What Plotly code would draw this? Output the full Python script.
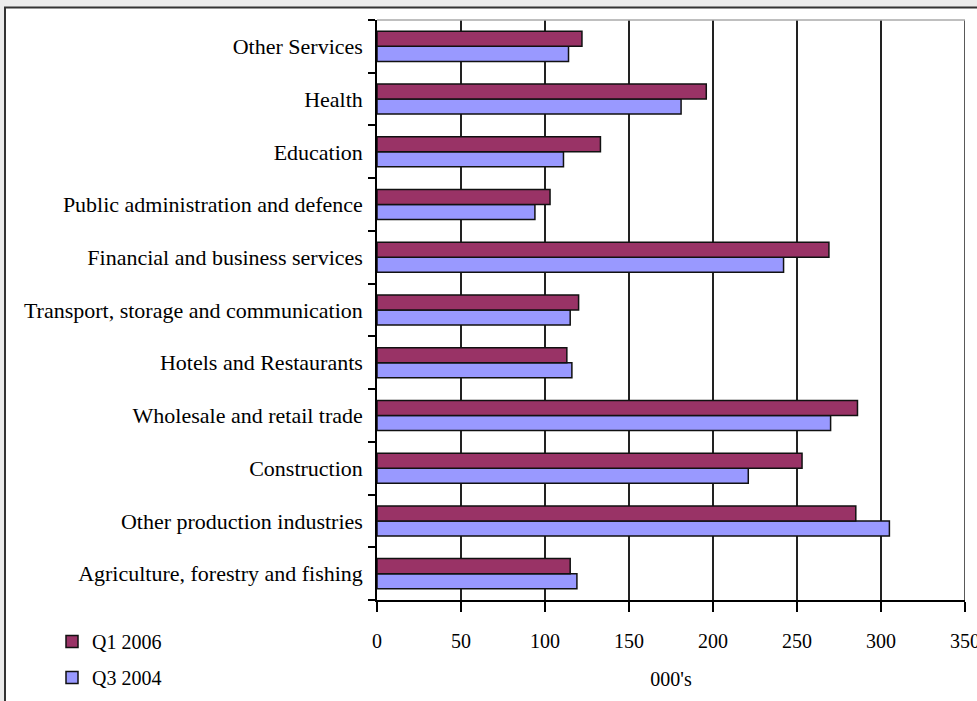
import plotly.graph_objects as go

categories = [
    "Agriculture, forestry and fishing",
    "Other production industries",
    "Construction",
    "Wholesale and retail trade",
    "Hotels and Restaurants",
    "Transport, storage and communication",
    "Financial and business services",
    "Public administration and defence",
    "Education",
    "Health",
    "Other Services",
]
q1_2006 = [115, 285, 253, 286, 113, 120, 269, 103, 133, 196, 122]
q3_2004 = [119, 305, 221, 270, 116, 115, 242, 94, 111, 181, 114]

x_ticks = [0, 50, 100, 150, 200, 250, 300, 350]

W, H = 977, 701
ML, MR, MT, MB = 377, 12, 20, 101
PW = W - ML - MR
PH = H - MT - MB

FONT = "Liberation Serif"

fig = go.Figure()
fig.add_trace(go.Bar(
    y=categories, x=q3_2004, orientation="h", name="Q3 2004",
    marker=dict(color="#9999FF", line=dict(color="#111111", width=1.5)),
    legendgroup="b", legendrank=2,
))
fig.add_trace(go.Bar(
    y=categories, x=q1_2006, orientation="h", name="Q1 2006",
    marker=dict(color="#993366", line=dict(color="#111111", width=1.5)),
    legendgroup="a", legendrank=1,
))

def px_x(px):
    return (px - ML) / PW

def px_y(py):
    return (H - MB - py) / PH

shapes = [
    # outer chart frame
    dict(type="rect", xref="paper", yref="paper",
         x0=px_x(5), x1=px_x(W + 20), y0=px_y(H + 20), y1=px_y(7.5),
         fillcolor="white", line=dict(color="#333333", width=2), layer="below"),
    # top border of plot area
    dict(type="line", xref="paper", yref="paper",
         x0=0, x1=1, y0=1, y1=1, line=dict(color="#aaaaaa", width=1.5)),
    # gridline at the right end of the axis range
    dict(type="line", xref="x", yref="paper",
         x0=x_ticks[-1], x1=x_ticks[-1], y0=0, y1=1,
         line=dict(color="#222222", width=1.5), layer="below"),
]

fig.update_layout(
    width=W, height=H,
    margin=dict(l=ML, r=MR, t=MT, b=MB, autoexpand=False),
    paper_bgcolor="#ebebeb",
    plot_bgcolor="white",
    barmode="group",
    bargap=0.43,
    bargroupgap=0,
    font=dict(family=FONT, size=22, color="black"),
    showlegend=True,
    legend=dict(
        x=px_x(52), y=px_y(622), xanchor="left", yanchor="top",
        traceorder="grouped", tracegroupgap=7,
        bgcolor="rgba(0,0,0,0)",
        font=dict(family=FONT, size=20, color="black"),
        itemwidth=30,
    ),
    shapes=shapes,
    xaxis=dict(
        range=[0, 350], tickvals=x_ticks, ticktext=[str(v) for v in x_ticks],
        automargin=False,
        showgrid=True, gridcolor="#222222", gridwidth=1.5,
        showline=True, linecolor="black", linewidth=1.5,
        ticks="outside", ticklen=10, tickwidth=1.5, tickcolor="black",
        ticklabelstandoff=12, ticklabeloverflow="allow",
        zeroline=False,
        title=dict(text="000's", standoff=21, font=dict(family=FONT, size=20)),
        tickfont=dict(family=FONT, size=20),
    ),
    yaxis=dict(
        type="category",
        automargin=False,
        showgrid=False,
        showline=True, linecolor="black", linewidth=1.5,
        ticks="outside", tickson="boundaries", ticklen=7, tickwidth=1.5, tickcolor="black",
        ticklabelstandoff=8,
        tickfont=dict(family=FONT, size=22),
        zeroline=False,
    ),
)

fig.write_html("out.html")
